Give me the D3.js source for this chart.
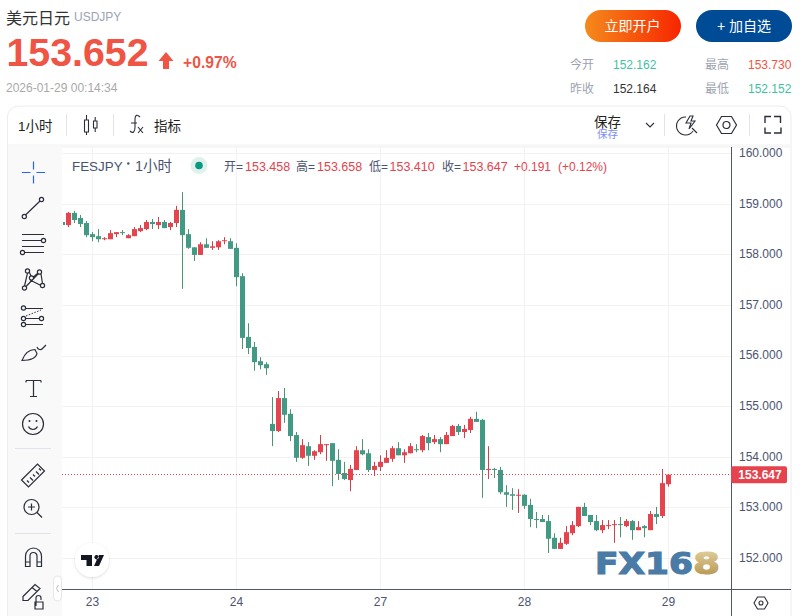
<!DOCTYPE html>
<html>
<head>
<meta charset="utf-8">
<script src="https://cdn.jsdelivr.net/npm/d3@7"></script>
<style>
  html, body { margin: 0; padding: 0; background: #fff; overflow: hidden; }
  svg { display: block; font-family: "Liberation Sans", "Noto Sans CJK SC", sans-serif; }
</style>
</head>
<body>
<svg id="chart" width="800" height="616"></svg>
<script>
// hourly candles, weekend gap is simply skipped
const opens = [158.64,158.58,158.82,158.72,158.62,158.40,158.36,158.30,158.30,158.40,158.44,158.32,158.36,158.46,158.50,158.64,158.58,158.64,158.54,158.62,158.88,158.40,158.14,157.99,158.20,158.13,158.14,158.26,158.26,158.13,157.57,156.37,156.17,155.89,155.83,154.65,154.51,155.16,154.85,154.43,153.98,154.21,154.02,154.09,154.23,154.27,153.94,153.68,153.54,153.74,154.13,154.07,153.74,153.80,153.88,153.96,154.17,154.03,154.07,154.15,154.13,154.39,154.29,154.35,154.25,154.41,154.61,154.49,154.53,154.75,154.73,153.74,153.76,153.74,153.30,153.26,153.23,153.25,153.05,152.77,152.77,152.73,152.40,152.18,152.28,152.49,152.63,153.01,152.85,152.73,152.55,152.63,152.65,152.67,152.63,152.73,152.55,152.63,152.55,152.87,152.83,153.458]
const highs = [158.64,158.84,158.86,158.78,158.66,158.44,158.50,158.34,158.48,158.44,158.48,158.40,158.54,158.58,158.68,158.70,158.74,158.68,158.64,158.96,159.23,158.50,158.14,158.24,158.32,158.26,158.28,158.34,158.32,158.22,157.63,156.64,156.27,155.97,155.87,155.18,155.30,155.36,154.94,154.49,154.35,154.29,154.13,154.43,154.25,154.27,154.15,153.90,153.84,154.21,154.35,154.15,153.90,154.03,154.13,154.21,154.29,154.15,154.27,154.25,154.43,154.47,154.43,154.39,154.49,154.63,154.65,154.63,154.79,154.89,154.75,154.21,153.78,153.80,153.44,153.38,153.36,153.26,153.17,152.91,152.85,152.85,152.49,152.40,152.63,152.73,153.01,153.09,152.85,152.85,152.75,152.75,152.75,152.81,152.77,152.75,152.73,152.65,152.93,153.01,153.76,153.658]
const lows = [158.58,158.54,158.62,158.54,158.34,158.26,158.24,158.28,158.30,158.34,158.38,158.32,158.36,158.44,158.48,158.50,158.50,158.52,158.48,158.54,157.32,158.11,157.87,157.99,158.13,158.09,158.09,158.20,158.11,157.37,156.13,156.03,155.70,155.73,155.62,154.21,154.49,154.67,154.31,153.90,153.96,153.82,153.94,154.05,153.92,153.42,153.54,153.54,153.32,153.74,154.03,153.70,153.62,153.72,153.88,153.90,154.03,153.88,154.07,154.09,154.09,154.13,154.25,154.09,154.25,154.41,154.43,154.37,154.47,154.69,153.19,153.56,153.58,153.26,153.01,152.95,152.89,152.97,152.61,152.59,152.71,152.10,152.18,152.18,152.26,152.45,152.61,152.83,152.65,152.53,152.49,152.57,152.30,152.41,152.61,152.36,152.55,152.41,152.55,152.67,152.79,153.410]
const closes = [158.58,158.82,158.68,158.60,158.38,158.34,158.30,158.32,158.42,158.44,158.42,158.38,158.50,158.52,158.64,158.60,158.64,158.52,158.62,158.88,158.38,158.13,157.99,158.20,158.13,158.16,158.26,158.28,158.11,157.55,156.35,156.15,155.87,155.81,155.75,154.51,155.16,154.83,154.41,153.98,154.23,154.02,154.11,154.25,154.25,153.92,153.66,153.56,153.76,154.13,154.05,153.74,153.82,153.90,153.98,154.17,154.03,154.09,154.21,154.13,154.41,154.27,154.35,154.25,154.43,154.61,154.49,154.55,154.75,154.69,153.74,153.76,153.74,153.30,153.25,153.23,153.25,153.03,152.77,152.75,152.71,152.38,152.18,152.30,152.51,152.65,153.01,152.83,152.71,152.55,152.65,152.65,152.67,152.65,152.73,152.55,152.61,152.59,152.87,152.81,153.48,153.647]

const priceTicks = [160, 159, 158, 157, 156, 155, 154, 153, 152]
const dayLabels = ['23', '24', '27', '28', '29']
const dayIndex = [5, 29, 53, 77, 101]
const lastPrice = 153.647

const statLabels = ['今开', '昨收', '最高', '最低']
const statValues = ['152.162', '152.164', '153.730', '152.152']

const colorUp = '#e5434e'
const colorDown = '#439a84'
const wickUp = '#c8434e'
const wickDown = '#4c9470'
const axisText = '#4a5470'
const gridColor = '#f2f2f3'
const iconColor = '#2a2e39'

const svg = d3.select('#chart')

const xScale = d3.scaleLinear().domain([0, 101]).range([62.5, 668.5])
const yScale = d3.scaleLinear().domain([152, 160]).range([558, 153.2])

function addText(parent, x, y, str, size, fill, weight, anchor) {
  return parent.append('text')
    .attr('x', x)
    .attr('y', y)
    .attr('font-size', size)
    .attr('fill', fill)
    .attr('font-weight', weight || 'normal')
    .attr('text-anchor', anchor || 'start')
    .text(str)
}

function addIcon(parent, d, width) {
  return parent.append('path')
    .attr('d', d)
    .attr('fill', 'none')
    .attr('stroke', iconColor)
    .attr('stroke-width', width || 1.2)
}

function circlePath(cx, cy, r) {
  return `M${cx - r},${cy}a${r},${r} 0 1,0 ${r * 2},0a${r},${r} 0 1,0 ${-r * 2},0`
}

function drawHeader() {
  const g = svg.append('g').attr('class', 'header')
  addText(g, 6, 23.5, '美元日元', 16, '#333')
  addText(g, 74, 21, 'USDJPY', 12, '#9aa3b5')
  addText(g, 6.5, 66, '153.652', 39.3, '#ef5444', 'bold')
  g.append('path')
    .attr('d', 'M166,52l7.5,9h-4.5v8h-6v-8h-4.5z')
    .attr('fill', '#ef5444')
  addText(g, 183, 67.5, '+0.97%', 15.7, '#ef5444', 'bold')
  addText(g, 6, 92, '2026-01-29 00:14:34', 12, '#a9a9a9')

  const defs = svg.append('defs')
  const grad = defs.append('linearGradient').attr('id', 'btnGrad')
  grad.append('stop').attr('offset', 0).attr('stop-color', '#f58a1c')
  grad.append('stop').attr('offset', 1).attr('stop-color', '#f72500')

  g.append('rect').attr('x', 585).attr('y', 10).attr('width', 96).attr('height', 32)
    .attr('rx', 16).attr('fill', 'url(#btnGrad)')
  addText(g, 632.5, 31, '立即开户', 14, '#fff', 'normal', 'middle')
  g.append('rect').attr('x', 696).attr('y', 10).attr('width', 96).attr('height', 32)
    .attr('rx', 16).attr('fill', '#004b96')
  addText(g, 744, 31, '+ 加自选', 14, '#fff', 'normal', 'middle')

  const statX = [570, 570, 705, 705]
  const valX = [613, 613, 748, 748]
  const statY = [68.5, 92.5, 68.5, 92.5]
  const valColor = ['#3fc2a3', '#333', '#ef5444', '#3fc2a3']
  statLabels.forEach((s, i) => {
    addText(g, statX[i], statY[i], s, 12, '#9da3b0')
    addText(g, valX[i], statY[i], statValues[i], 12, valColor[i])
  })
}

function drawFrame() {
  const g = svg.append('g').attr('class', 'frame')
  g.append('path')
    .attr('d', 'M7.5,616V117a11,11 0 0 1 11,-11H780a11,11 0 0 1 11,11V616')
    .attr('fill', '#fff')
    .attr('stroke', '#ececee')
  g.append('rect').attr('x', 8).attr('y', 144).attr('width', 783).attr('height', 3).attr('fill', '#f8f8f9')
  g.append('rect').attr('x', 8).attr('y', 147).attr('width', 54).attr('height', 469).attr('fill', '#f9f9fa')
  g.append('path').attr('d', 'M62,147H791').attr('stroke', '#f2f2f3')

  // top toolbar
  addText(g, 18, 131, '1小时', 13.5, '#222')
  const seps = [66.5, 113.5, 664.5, 749.5]
  g.selectAll('.sep').data(seps).enter().append('path')
    .attr('class', 'sep')
    .attr('d', d => `M${d},114V136`)
    .attr('stroke', '#e2e3e8')
  addIcon(g, 'M84.5,120h4v12h-4zM86.5,115v5M86.5,132v3M93.5,121h3.5v7h-3.5zM95.2,117v4M95.2,128v4', 1.1)
  addIcon(g, 'M130,131c3,3 5,1 5,-4v-8c0,-4 2,-5 5,-2M131,123h6M138,127l5,6M143,127l-5,6', 1.1)
  addText(g, 154, 131, '指标', 13.5, '#222')

  addText(g, 594, 126.5, '保存', 13.5, '#222')
  addText(g, 597, 138, '保存', 10.5, '#7b8cf5')
  addIcon(g, 'M646,123l4,4l4,-4', 1.1)
  addIcon(g, 'M686,117a9,9 0 1 0 7,14M697,133l-5,-5M690,116l-4,7h5l-2,6l6,-8h-4l2,-5z', 1.1)
  addIcon(g, 'M716.5,125l5,-8.5h10l5,8.5l-5,8.5h-10z' + circlePath(726.5, 125, 3.5), 1.2)
  addIcon(g, 'M765,123v-6.5h6M774,116.5h6.500v6.500M781,127.500v5.500h-7M771,133h-6v-5.500', 1.4)
}

function drawTools() {
  const g = svg.append('g').attr('class', 'tools')
  g.append('path')
    .attr('d', 'M22,172.500h8.500M36.500,172.500h8.500M33.500,161.500v8M33.500,175.500v8')
    .attr('stroke', '#2962ff').attr('stroke-width', 1.2).attr('fill', 'none')

  addIcon(g, 'M26,214.500L39.500,201.500' + circlePath(24.300, 216.500, 2.100) + circlePath(41.500, 199.500, 2.100))
  addIcon(g, 'M22,234.500H44M22,240.500H41M22,246.500H44M25,252.500H44' + circlePath(43.500, 240.500, 2.100) + circlePath(22.500, 252.500, 2.100))
  addIcon(g, 'M27.500,273L24.500,286M29,271.500L31,276M33.500,277L38,273M41,274L42.500,283.500M26,286.500L38,274M30,280L40,285'
    + circlePath(27.500, 271, 2.100) + circlePath(39.500, 272, 2.100) + circlePath(31.500, 278, 2.100) + circlePath(24.500, 288, 2.100) + circlePath(42.500, 285.500, 2.100))
  addIcon(g, 'M26,308.500H43M26,318.500H39M26,324.500H43' + circlePath(23.500, 308, 2.100) + circlePath(23.500, 318.500, 2.100) + circlePath(41.500, 318.500, 2.100) + circlePath(23.500, 324.500, 2.100))
  g.append('path').attr('d', 'M26,316L41,310').attr('stroke', iconColor).attr('stroke-dasharray', '1.500 1.500').attr('fill', 'none')
  addIcon(g, 'M22,360.500c3,-8 8,-11 13,-11l2,4c-1,5 -6,7 -15,7zM37,347c1,3 4,3 5,2l4,-4')
  addIcon(g, 'M26,380.500H41M26,380.500v2M41,380.500v2M33.500,380.500V396.500M30,396.500H37')
  addIcon(g, circlePath(33, 424, 10.500) + 'M28.500,426.500c2,4 7,4 9,0')
  g.append('circle').attr('cx', 29.500).attr('cy', 421).attr('r', 1).attr('fill', iconColor)
  g.append('circle').attr('cx', 36.500).attr('cy', 421).attr('r', 1).attr('fill', iconColor)

  g.append('path').attr('d', 'M15,448.500H51M15,533.500H51').attr('stroke', '#e2e3ea')

  addIcon(g, 'M21.500,480l16,-16l7,7l-16,16zM27,480.500l2,2M30,477.500l3,3M33,474.500l2,2M36,471.500l3,3M39,468.500l2,2')
  addIcon(g, circlePath(31.500, 507, 7.500) + 'M37,512.500L42,517.500M28,507h7M31.500,503.500v7')
  addIcon(g, 'M25.500,566.500V556a8,8 0 0 1 16,0V566.500H37V556a3.500,3.500 0 0 0 -7,0V566.500zM25.500,562H30M37,562H41.500')
  addIcon(g, 'M23,596.500l12,-12l5,4l-12,12h-5zM32,587.500l5,4M36,606v-8a2.500,2.500 0 0 1 5,0v2M35,602h8v7h-8z')

  // collapse handle
  g.append('rect').attr('x', 53.500).attr('y', 576).attr('width', 8).attr('height', 25).attr('rx', 4)
    .attr('fill', '#fff').attr('stroke', '#e6e6ec')
  g.append('path').attr('d', 'M58.500,585l-2,3.500l2,3.500').attr('stroke', '#b8bcc6').attr('fill', 'none')
}

function drawGrid() {
  const g = svg.append('g').attr('class', 'grid')
  g.selectAll('.h').data(priceTicks).enter().append('line')
    .attr('x1', 62).attr('x2', 731)
    .attr('y1', d => Math.round(yScale(d)) + 0.5)
    .attr('y2', d => Math.round(yScale(d)) + 0.5)
    .attr('stroke', gridColor)
  g.selectAll('.v').data(dayIndex).enter().append('line')
    .attr('x1', d => xScale(d))
    .attr('x2', d => xScale(d))
    .attr('y1', 147).attr('y2', 589)
    .attr('stroke', gridColor)
}

function drawCandles() {
  const clip = svg.append('clipPath').attr('id', 'pane')
  clip.append('rect').attr('x', 63).attr('y', 147).attr('width', 668).attr('height', 442)

  const g = svg.append('g').attr('class', 'candles').attr('clip-path', 'url(#pane)')
  const rows = d3.range(opens.length)

  g.selectAll('.wick').data(rows).enter().append('rect')
    .attr('class', 'wick')
    .attr('x', i => xScale(i) - 0.5)
    .attr('width', 1)
    .attr('y', i => yScale(highs[i]))
    .attr('height', i => yScale(lows[i]) - yScale(highs[i]))
    .attr('fill', i => closes[i] >= opens[i] ? wickUp : wickDown)

  g.selectAll('.body').data(rows).enter().append('rect')
    .attr('class', 'body')
    .attr('x', i => xScale(i) - 2.5)
    .attr('width', 5)
    .attr('y', i => yScale(Math.max(opens[i], closes[i])))
    .attr('height', i => Math.max(1, Math.abs(yScale(opens[i]) - yScale(closes[i]))))
    .attr('fill', i => closes[i] >= opens[i] ? colorUp : colorDown)
}

function drawAxes() {
  const yAxis = d3.axisRight(yScale).tickValues(priceTicks).tickFormat(d3.format('.3f')).tickSize(0).tickPadding(8)
  const yG = svg.append('g').attr('transform', 'translate(731,-0.5)').call(yAxis)
  yG.select('.domain').remove()
  yG.selectAll('text').attr('font-size', 12).attr('fill', axisText).attr('font-family', 'inherit')

  const xAxis = d3.axisBottom(xScale).tickValues(dayIndex).tickFormat((d, i) => dayLabels[i]).tickSize(0).tickPadding(8)
  const xG = svg.append('g').attr('transform', 'translate(-0.5,589)').call(xAxis)
  xG.select('.domain').remove()
  xG.selectAll('text').attr('font-size', 12).attr('fill', axisText).attr('font-family', 'inherit')

  svg.append('path').attr('d', 'M731.500,147V616M62,589.500H791')
    .attr('stroke', '#50566b').attr('fill', 'none')

  addIcon(svg, 'M754,603l3.500,-6h7l3.500,6l-3.500,6h-7z' + circlePath(761, 603, 2), 1.1)

  // last price marker
  const py = yScale(lastPrice)
  svg.append('line')
    .attr('x1', 62).attr('x2', 731)
    .attr('y1', Math.floor(py) + 0.5).attr('y2', Math.floor(py) + 0.5)
    .attr('stroke', colorUp)
    .attr('stroke-dasharray', '1 2')
  svg.append('rect').attr('x', 731).attr('y', py - 8.500).attr('width', 56).attr('height', 17)
    .attr('rx', 2).attr('fill', colorUp)
  addText(svg, 760, py + 4.500, d3.format('.3f')(lastPrice), 12, '#fff', 'bold', 'middle')
}

function drawLegend() {
  const g = svg.append('g').attr('class', 'legend')
  addText(g, 72, 171, 'FESJPY', 13.4, axisText)
  g.append('circle').attr('cx', 128.300).attr('cy', 163.500).attr('r', 1.200).attr('fill', axisText)
  addText(g, 135, 171, '1小时', 14.5, axisText)
  g.append('circle').attr('cx', 199).attr('cy', 165.500).attr('r', 8.500).attr('fill', '#dff1ec')
  g.append('circle').attr('cx', 199).attr('cy', 165.500).attr('r', 3.800).attr('fill', '#089981')

  const names = ['开=', '高=', '低=', '收=']
  const nameX = [224, 296, 369, 442]
  const valX = [245, 317, 389.500, 462.500]
  names.forEach((n, i) => addText(g, nameX[i], 170.500, n, 12, axisText))
  const shown = [opens, highs, lows, closes].map(a => d3.format('.3f')(a[a.length - 1]))
  shown.forEach((s, i) => addText(g, valX[i], 170.500, s, 12.500, colorUp))
  addText(g, 514, 170.500, '+0.191', 12, colorUp)
  addText(g, 558, 170.500, '(+0.12%)', 12, colorUp)
}

function drawBadges() {
  const defs = svg.select('defs')
  const f = defs.append('filter').attr('id', 'soft').attr('x', '-30%').attr('y', '-30%').attr('width', '160%').attr('height', '160%')
  f.append('feDropShadow').attr('dx', 0).attr('dy', 1).attr('stdDeviation', 1.500).attr('flood-color', '#000').attr('flood-opacity', 0.15)

  const gold = defs.append('linearGradient').attr('id', 'gold').attr('x1', 0).attr('x2', 0).attr('y1', 0).attr('y2', 1)
  gold.append('stop').attr('offset', 0).attr('stop-color', '#e6d6a6')
  gold.append('stop').attr('offset', 1).attr('stop-color', '#b08d45')

  svg.append('circle').attr('cx', 92).attr('cy', 560).attr('r', 17).attr('fill', '#fff').attr('filter', 'url(#soft)')
  svg.append('path')
    .attr('d', 'M81,555h11v11h-5.500v-6H81zM94,566l5,-11h5l-5,11zM96.500,555a2.200,2.200 0 1 0 0.100,0z')
    .attr('fill', '#131722')

  const mark = svg.append('g').attr('class', 'watermark').attr('font-family', '"DejaVu Sans", sans-serif').attr('font-weight', 'bold')
  mark.append('text').attr('x', 595).attr('y', 574).attr('font-size', 30)
    .attr('textLength', 98).attr('lengthAdjust', 'spacingAndGlyphs')
    .attr('fill', '#4a7ba6').attr('stroke', '#4a7ba6').attr('stroke-width', 1.2).text('FX16')
  mark.append('text').attr('x', 693).attr('y', 574).attr('font-size', 30)
    .attr('textLength', 27).attr('lengthAdjust', 'spacingAndGlyphs')
    .attr('fill', 'url(#gold)').attr('stroke', 'url(#gold)').attr('stroke-width', 1.2).text('8')
}

drawHeader()
drawFrame()
drawTools()
drawGrid()
drawCandles()
drawAxes()
drawLegend()
drawBadges()
</script>
</body>
</html>
